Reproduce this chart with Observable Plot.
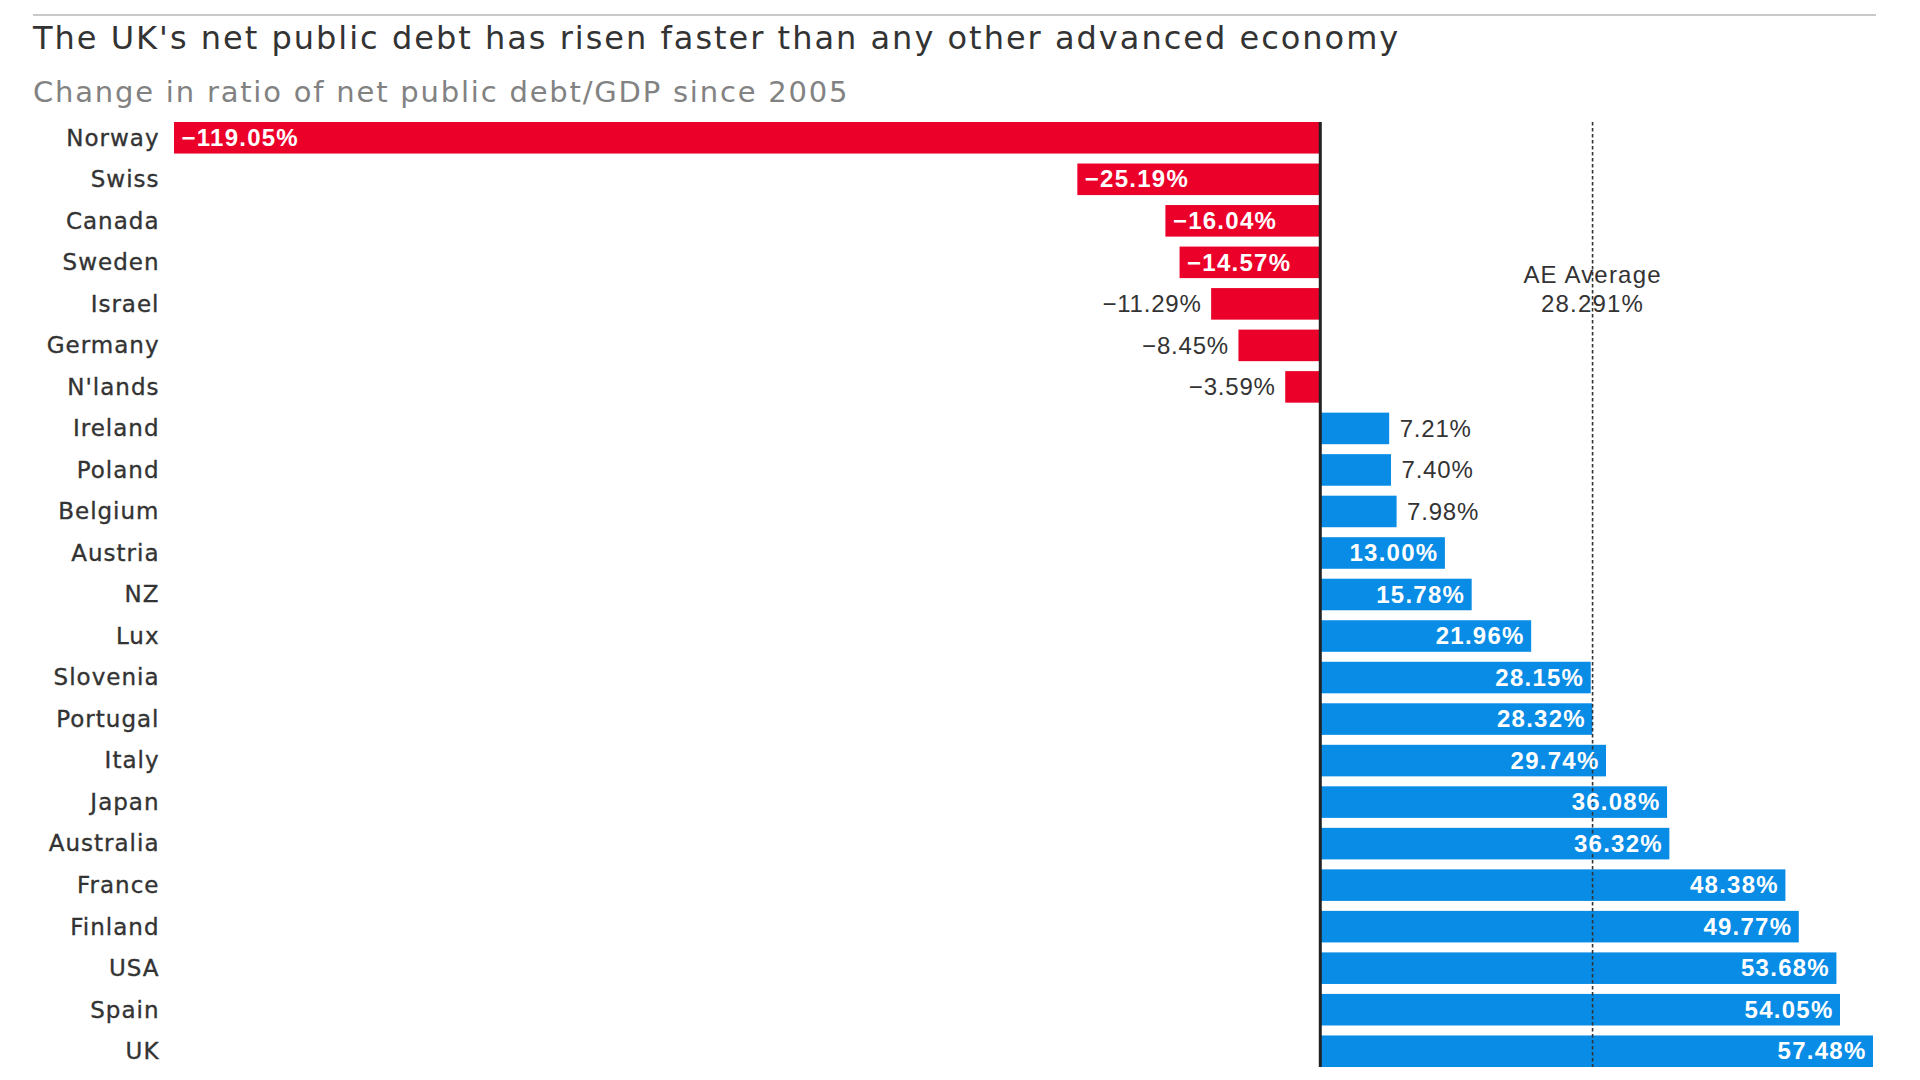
<!DOCTYPE html>
<html>
<head>
<meta charset="utf-8">
<script src="https://cdn.jsdelivr.net/npm/d3@7"></script>
<script src="https://cdn.jsdelivr.net/npm/@observablehq/plot@0.6"></script>
<style>
  html, body { margin: 0; padding: 0; background: #fff; overflow: hidden; }
  #wrap { position: relative; width: 1920px; height: 1080px; }
  #header { position: relative; width: 1920px; height: 100px; }
  #rule { position: absolute; left: 33px; width: 1843px; top: 14px; border-top: 2px solid #c9c9c9; }
  #title { position: absolute; left: 33px; top: 21px; margin: 0; font-family: "DejaVu Sans", sans-serif; font-weight: normal; font-size: 32px; line-height: 34px; color: #333; letter-spacing: 2.0px; white-space: nowrap; }
  #subtitle { position: absolute; left: 33px; top: 77px; margin: 0; font-family: "DejaVu Sans", sans-serif; font-weight: normal; font-size: 29px; line-height: 30px; color: #828282; letter-spacing: 1.8px; white-space: nowrap; }
  #chart svg { display: block; }
</style>
</head>
<body>
<div id="wrap">
  <div id="header">
    <div id="rule"></div>
    <h1 id="title">The UK's net public debt has risen faster than any other advanced economy</h1>
    <h2 id="subtitle">Change in ratio of net public debt/GDP since 2005</h2>
  </div>
  <div id="chart"></div>
</div>
<script>
const countries = ["Norway", "Swiss", "Canada", "Sweden", "Israel", "Germany", "N'lands", "Ireland", "Poland", "Belgium", "Austria", "NZ", "Lux", "Slovenia", "Portugal", "Italy", "Japan", "Australia", "France", "Finland", "USA", "Spain", "UK"];
const changes = [-119.05, -25.19, -16.04, -14.57, -11.29, -8.45, -3.59, 7.21, 7.40, 7.98, 13.00, 15.78, 21.96, 28.15, 28.32, 29.74, 36.08, 36.32, 48.38, 49.77, 53.68, 54.05, 57.48];
const aeAverage = 28.291;
const aeAverageLabel = "AE Average\n28.291%";

const RED = "#eb0029";
const BLUE = "#088ce6";
const INK = "#333333";

const data = countries.map((country, i) => ({country, value: changes[i]}));
const fmt = d => (d.value < 0 ? "\u2212" : "") + Math.abs(d.value).toFixed(2) + "%";
const inside = d => Math.abs(d.value) > 12;

const neg = data.filter(d => d.value < 0);
const pos = data.filter(d => d.value >= 0);

// letter-spacing applied per text mark (in mark order)
const spacing = ["1px", "1.25px", "1.25px", "0.8px", "0.8px", "1.2px"];

const chart = Plot.plot({
  width: 1920,
  height: 980,
  marginTop: 22,
  marginBottom: 13,
  marginLeft: 174,
  marginRight: 47,
  style: {fontFamily: "'Liberation Sans', Arial, sans-serif", fontSize: "24px", color: INK, background: "#fff"},
  x: {domain: [d3.min(changes), d3.max(changes)], axis: null},
  y: {domain: countries, paddingInner: 0.24, paddingOuter: 0, round: false, label: null, axis: null},
  marks: [
    Plot.barX(neg, {x: "value", y: "country", fill: RED}),
    Plot.barX(pos, {x: "value", y: "country", fill: BLUE}),
    Plot.ruleX([aeAverage], {stroke: INK, strokeWidth: 1.6, strokeDasharray: "3.5,2.5"}),
    Plot.ruleX([0], {stroke: "#222", strokeWidth: 3}),
    Plot.text(data, {frameAnchor: "left", y: "country", text: "country", textAnchor: "end", dx: -15, fill: INK, stroke: INK, strokeWidth: 0.35, fontSize: 23, fontFamily: "'DejaVu Sans', sans-serif"}),
    Plot.text(neg.filter(inside), {x: "value", y: "country", text: fmt, textAnchor: "start", dx: 7, fill: "#fff", fontWeight: "bold", fontSize: 24}),
    Plot.text(pos.filter(inside), {x: "value", y: "country", text: fmt, textAnchor: "end", dx: -7, fill: "#fff", fontWeight: "bold", fontSize: 24}),
    Plot.text(neg.filter(d => !inside(d)), {x: "value", y: "country", text: fmt, textAnchor: "end", dx: -10, fill: INK, fontSize: 24}),
    Plot.text(pos.filter(d => !inside(d)), {x: "value", y: "country", text: fmt, textAnchor: "start", dx: 10, fill: INK, fontSize: 24}),
    Plot.text([aeAverage], {x: d => d, y: () => "Israel", text: () => aeAverageLabel, dy: -16, lineHeight: 1.2, textAnchor: "middle", fill: INK, fontSize: 24})
  ]
});
chart.querySelectorAll('g[aria-label="text"]').forEach((g, i) => {
  if (spacing[i]) g.style.letterSpacing = spacing[i];
});
document.getElementById("chart").appendChild(chart);
</script>
</body>
</html>
